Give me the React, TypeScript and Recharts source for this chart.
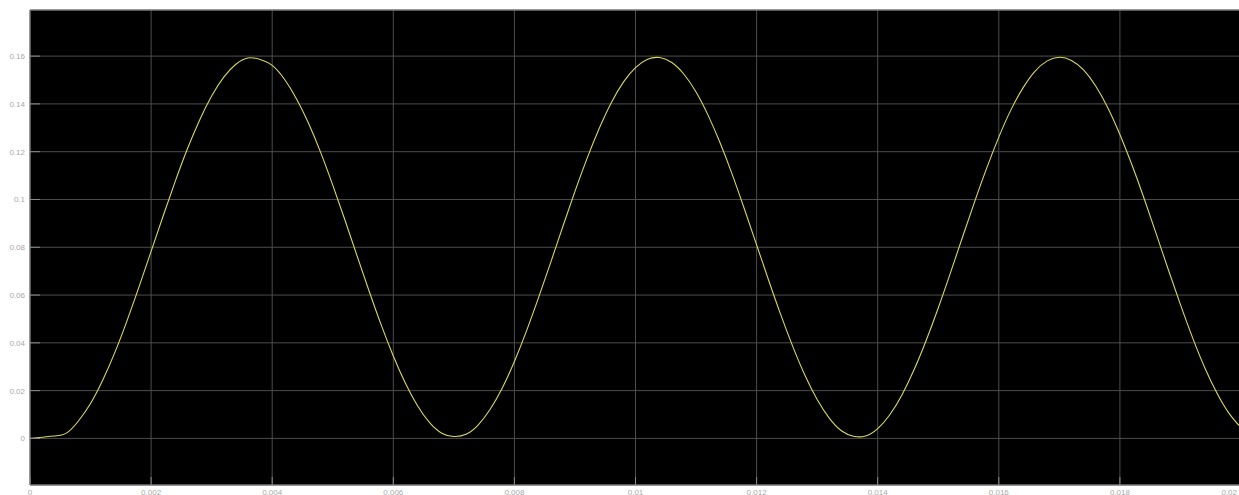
import { LineChart, Line, XAxis, YAxis, CartesianGrid, ReferenceLine } from 'recharts';

const SAMPLE_STEP = 0.0002;

const SIGNAL = [
  0, 0.0005, 0.001, 0.0022, 0.0073, 0.0146, 0.0243, 0.0359, 0.0491, 0.0634,
  0.0783, 0.0932, 0.1077, 0.1212, 0.1332, 0.1433, 0.1512, 0.1566, 0.1592, 0.1586,
  0.1561, 0.1504, 0.1422, 0.1319, 0.1197, 0.106, 0.0915, 0.0765, 0.0617, 0.0475,
  0.0345, 0.0231, 0.0137, 0.0066, 0.0022, 0.0008, 0.0017, 0.0056, 0.0122, 0.0211,
  0.0322, 0.045, 0.059, 0.0737, 0.0887, 0.1034, 0.1172, 0.1297, 0.1405, 0.1491,
  0.1552, 0.1587, 0.1594, 0.1573, 0.1524, 0.145, 0.1352, 0.1235, 0.1103, 0.0959,
  0.081, 0.0661, 0.0517, 0.0383, 0.0263, 0.0163, 0.0085, 0.0032, 0.0009, 0.001,
  0.0041, 0.0099, 0.0182, 0.0287, 0.041, 0.0546, 0.0692, 0.0842, 0.099, 0.1131,
  0.1261, 0.1375, 0.1467, 0.1537, 0.158, 0.1595, 0.1582, 0.1542, 0.1475, 0.1384,
  0.1272, 0.1144, 0.1004, 0.0856, 0.0706, 0.056, 0.0422, 0.0297, 0.0191, 0.0106,
  0.0045,
];

const X_TICKS = [0, 0.002, 0.004, 0.006, 0.008, 0.01, 0.012, 0.014, 0.016, 0.018, 0.02];
const Y_TICKS = [0, 0.02, 0.04, 0.06, 0.08, 0.1, 0.12, 0.14, 0.16];
const X_DOMAIN = [0, 0.02];
const Y_DOMAIN = [-0.0195, 0.1793];

const data = SIGNAL.map((v, i) => ({ t: Number((i * SAMPLE_STEP).toFixed(4)), v }));

const fmt = (v: number) => String(Number(v.toFixed(3)));

const TICK_COLOR = '#8a8a8a';
const LABEL_COLOR = '#a8a8a8';

const YTick = ({ x, y, payload }: any) => (
  <g>
    <line x1={x + 5} x2={x + 15} y1={y} y2={y} stroke={TICK_COLOR} />
    <text x={x} y={y} dy={3} textAnchor="end" fill={LABEL_COLOR} fontSize={8}>
      {fmt(payload.value)}
    </text>
  </g>
);

const XTick = ({ x, y, payload }: any) => {
  // last label sits on the window edge: keep it inside
  const atEdge = x > 1225;
  return (
    <g>
      <line x1={x} x2={x} y1={y - 11} y2={y - 3} stroke={TICK_COLOR} />
      <text
        x={atEdge ? 1237 : x}
        y={y + 6.5}
        textAnchor={atEdge ? 'end' : 'middle'}
        fill={LABEL_COLOR}
        fontSize={8}
      >
        {fmt(payload.value)}
      </text>
    </g>
  );
};

export default function App() {
  return (
    <div
      style={{
        position: 'absolute',
        left: 0,
        top: 0,
        width: 1239,
        height: 495,
        overflow: 'hidden',
        background: '#fff',
        fontFamily: '"Liberation Sans", Arial, sans-serif',
      }}
    >
      <LineChart width={1260} height={505} data={data} margin={{ top: 10, right: 19, bottom: 0, left: 0 }}>
        <CartesianGrid fill="#000" stroke="#4d4d4d" />
        <XAxis
          dataKey="t"
          type="number"
          domain={X_DOMAIN}
          ticks={X_TICKS}
          allowDataOverflow
          height={20}
          tickSize={0}
          tickMargin={3}
          tick={<XTick />}
          axisLine={{ stroke: '#8c8c8c' }}
        />
        <YAxis
          type="number"
          domain={Y_DOMAIN}
          ticks={Y_TICKS}
          allowDataOverflow
          width={30}
          tickSize={0}
          tickMargin={5}
          tick={<YTick />}
          axisLine={{ stroke: '#8c8c8c' }}
        />
        <ReferenceLine y={Y_DOMAIN[1]} stroke="#8c8c8c" />
        <Line
          type="natural"
          dataKey="v"
          stroke="#d8d85c"
          strokeWidth={1.1}
          dot={false}
          isAnimationActive={false}
        />
      </LineChart>
    </div>
  );
}
